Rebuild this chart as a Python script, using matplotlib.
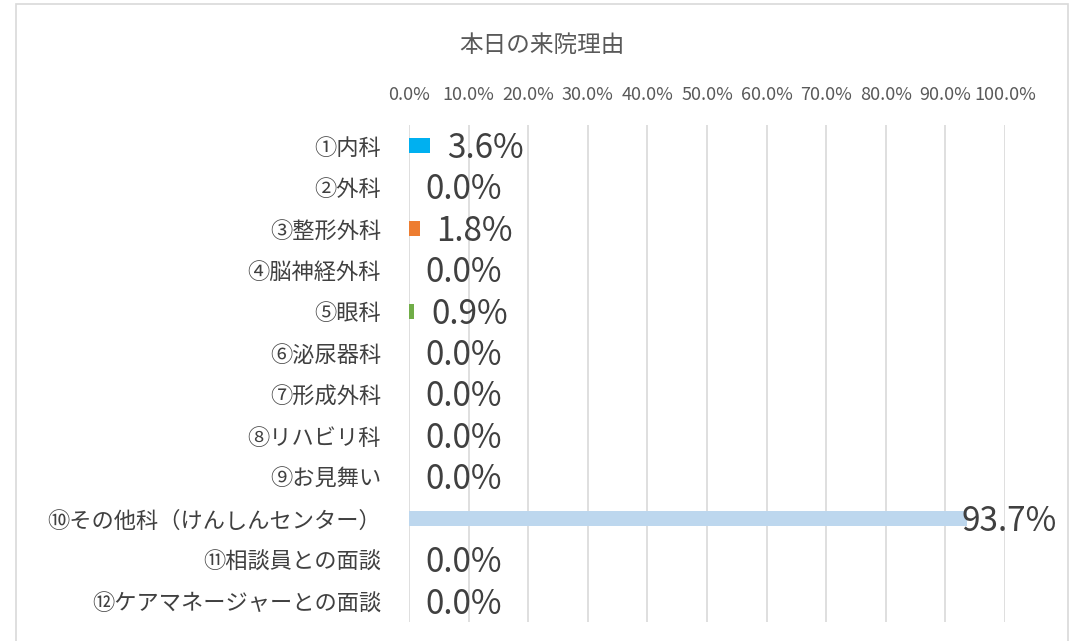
import matplotlib.pyplot as plt
import matplotlib.patches as patches
from matplotlib.ticker import FuncFormatter

plt.rcParams['font.family'] = ['Noto Sans CJK JP', 'DejaVu Sans']

# data
categories = ['①内科', '②外科', '③整形外科', '④脳神経外科', '⑤眼科', '⑥泌尿器科',
              '⑦形成外科', '⑧リハビリ科', '⑨お見舞い', '⑩その他科（けんしんセンター）',
              '⑪相談員との面談', '⑫ケアマネージャーとの面談']
values = [3.6, 0.0, 1.8, 0.0, 0.9, 0.0, 0.0, 0.0, 0.0, 93.7, 0.0, 0.0]
colors = ['#00B0F0', '#4472C4', '#ED7D31', '#A5A5A5', '#70AD47', '#5B9BD5',
          '#264478', '#9E480E', '#636363', '#BDD7EE', '#997300', '#43682B']
ticks = [0, 10, 20, 30, 40, 50, 60, 70, 80, 90, 100]

W, H = 1069, 641
fig = plt.figure(figsize=(W / 100, H / 100), dpi=100)

# chart border
fig.patches.append(patches.Rectangle((16 / W, -0.05), (1068 - 16) / W, 1 - 4 / H + 0.05,
                                     transform=fig.transFigure, fill=False,
                                     edgecolor='#D9D9D9', lw=1.2))

ax = fig.add_axes([409 / W, 1 - 622 / H, (1005 - 409) / W, (622 - 125) / H])

y = list(range(len(categories)))
ax.barh(y, values, height=0.36, color=colors, zorder=3)
ax.set_ylim(len(categories) - 0.5, -0.5)
ax.set_xlim(0, 100)

ax.set_xticks(ticks)
ax.xaxis.set_major_formatter(FuncFormatter(lambda v, p: f'{v:.1f}%'))
ax.xaxis.tick_top()
ax.tick_params(axis='x', length=0, pad=15, labelsize=13, labelcolor='#595959')
ax.set_yticks(y)
ax.set_yticklabels(categories, fontsize=16, color='#404040')
ax.tick_params(axis='y', length=0, pad=20)
ax.grid(axis='x', color='#D9D9D9', lw=1.2, zorder=0)
for s in ax.spines.values():
    s.set_visible(False)

for i, v in enumerate(values):
    off = 12 if v < 90 else -4
    ax.annotate(f'{v:.1f}%', (v, i), xytext=(off, -2), textcoords='offset points',
                ha='left', va='center', fontsize=24, color='#404040',
                zorder=4, annotation_clip=False)

fig.text(542 / W, 1 - 45 / H, '本日の来院理由', ha='center', va='center',
         fontsize=17, color='#595959')

fig.savefig('out.png', dpi=100)
